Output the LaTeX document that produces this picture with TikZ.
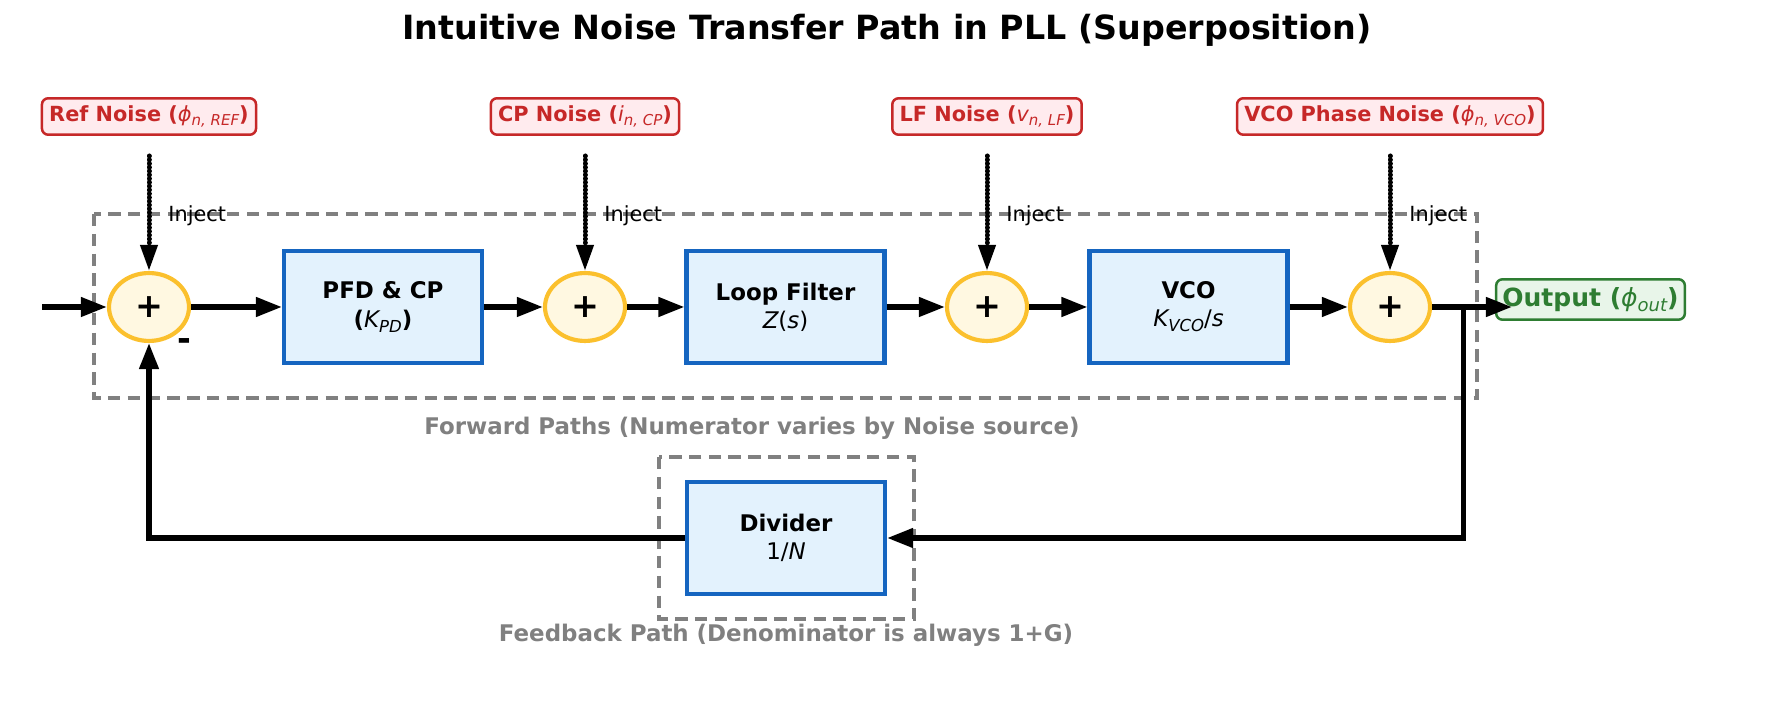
\documentclass[tikz,border=0pt]{standalone}
\usepackage{fontspec}
\setmainfont{DejaVu Sans}
\usetikzlibrary{arrows.meta,shapes.geometric}
\definecolor{NoiseRed}{HTML}{C62828}
\definecolor{PaleRed}{HTML}{FFEBEE}
\definecolor{BlockBlue}{HTML}{1565C0}
\definecolor{PaleBlue}{HTML}{E3F2FD}
\definecolor{SumGold}{HTML}{FBC02D}
\definecolor{PaleGold}{HTML}{FFF8E1}
\definecolor{OutGreen}{HTML}{2E7D32}
\definecolor{PaleGreen}{HTML}{E8F5E9}
\definecolor{Slate}{HTML}{808080}
\makeatletter
\newcommand{\mi}[1]{{\mdseries\itshape #1}}
\newcommand{\nsub}[1]{\raisebox{-0.4ex}{\fontsize{\fpeval{0.72*\f@size}}{0}\selectfont\mdseries\itshape #1}}
\makeatother

\begin{document}
\begin{tikzpicture}[
  x=0.48pt,y=-0.48pt,
  block/.style={draw=BlockBlue,fill=PaleBlue,line width=2pt,align=center,
                minimum width=95pt,minimum height=53.8pt,font=\fontsize{11}{13.5}\selectfont},
  sum/.style={ellipse,draw=SumGold,fill=PaleGold,line width=2pt,inner sep=0pt,
              minimum width=38.4pt,minimum height=32.6pt,font=\fontsize{16}{16}\selectfont\bfseries},
  noise/.style={draw=NoiseRed,fill=PaleRed,text=NoiseRed,rounded corners=3pt,line width=1.2pt,
                minimum height=17.5pt,inner xsep=3.5pt,font=\fontsize{10}{12}\selectfont\bfseries},
  outbox/.style={draw=OutGreen,fill=PaleGreen,text=OutGreen,rounded corners=3pt,line width=1.2pt,
                 minimum height=19.4pt,inner xsep=3pt,font=\fontsize{12}{14}\selectfont\bfseries},
  groupbox/.style={draw=Slate,line width=1.6pt,dash pattern=on 6pt off 3.5pt},
  pathnote/.style={text=Slate,font=\fontsize{11}{13}\selectfont\bfseries},
  injtag/.style={anchor=west,inner sep=0pt,font=\fontsize{10}{12}\selectfont},
  sig/.style={-{Triangle[length=12.5pt,width=9pt]},line width=2.5pt},
  inject/.style={-{Triangle[length=12.5pt,width=8pt]},line width=2.4pt,
                 line cap=round,dash pattern=on 0.01pt off 1.8pt}
]
  \useasboundingbox (0,0) rectangle (1773,726);
  \node[font=\fontsize{16}{19}\selectfont\bfseries] (title) at (887,30)
    {Intuitive Noise Transfer Path in PLL (Superposition)};

  \draw[groupbox] (94,214) rectangle (1477,398);
  \draw[groupbox] (659,457) rectangle (914,619);
  \node[pathnote] (fwdnote) at (752,428) {Forward Paths (Numerator varies by Noise source)};
  \node[pathnote] (fbnote) at (786,635) {Feedback Path (Denominator is always 1+G)};

  \node[noise] (nref) at (149,116.5) {Ref Noise (\mi{ϕ}\nsub{n, REF})};
  \node[noise] (ncp) at (585,116.5) {CP Noise (\mi{i}\nsub{n, CP})};
  \node[noise] (nlf) at (987,116.5) {LF Noise (\mi{v}\nsub{n, LF})};
  \node[noise] (nvco) at (1390,116.5) {VCO Phase Noise (\mi{ϕ}\nsub{n, VCO})};

  \node[sum] (s1) at (149,307) {+};
  \node[sum] (s2) at (585,307) {+};
  \node[sum] (s3) at (987,307) {+};
  \node[sum] (s4) at (1390,307) {+};
  \node[font=\fontsize{16}{16}\selectfont\bfseries,inner sep=0pt] (neg) at (184.5,345) {-};

  \node[block] (pfd) at (383,307) {\textbf{PFD \& CP}\\\textbf{(}\mi{K}\nsub{PD}\textbf{)}};
  \node[block] (lf) at (785.5,307) {\textbf{Loop Filter}\\\mi{Z}(\mi{s})};
  \node[block] (vco) at (1188.5,307) {\textbf{VCO}\\\mi{K}\nsub{VCO}/\mi{s}};
  \node[block] (div) at (786,538) {\textbf{Divider}\\1/\mi{N}};
  \node[outbox] (out) at (1590.5,299.5) {Output (\mi{ϕ}\nsub{out})};

  \coordinate (in) at (42,307);
  \coordinate (outtip) at (1512,307);
  \coordinate (tap) at (1463.5,307);
  \coordinate (i1) at (149,156);
  \coordinate (i2) at (585,156);
  \coordinate (i3) at (987,156);
  \coordinate (i4) at (1390,156);

  \draw[sig] (in) -- (s1);
  \draw[sig] (s1) -- (pfd);
  \draw[sig] (pfd) -- (s2);
  \draw[sig] (s2) -- (lf);
  \draw[sig] (lf) -- (s3);
  \draw[sig] (s3) -- (vco);
  \draw[sig] (vco) -- (s4);
  \draw[sig] (s4) -- (outtip);
  \draw[sig] (tap) |- (div.east);
  \draw[sig] (div.west) -| (s1.south);

  \draw[inject] (i1) -- (s1.north);
  \draw[inject] (i2) -- (s2.north);
  \draw[inject] (i3) -- (s3.north);
  \draw[inject] (i4) -- (s4.north);
  \node[injtag] (t1) at (168,216) {Inject};
  \node[injtag] (t2) at (604,216) {Inject};
  \node[injtag] (t3) at (1006,216) {Inject};
  \node[injtag] (t4) at (1409,216) {Inject};
\end{tikzpicture}
\end{document}
